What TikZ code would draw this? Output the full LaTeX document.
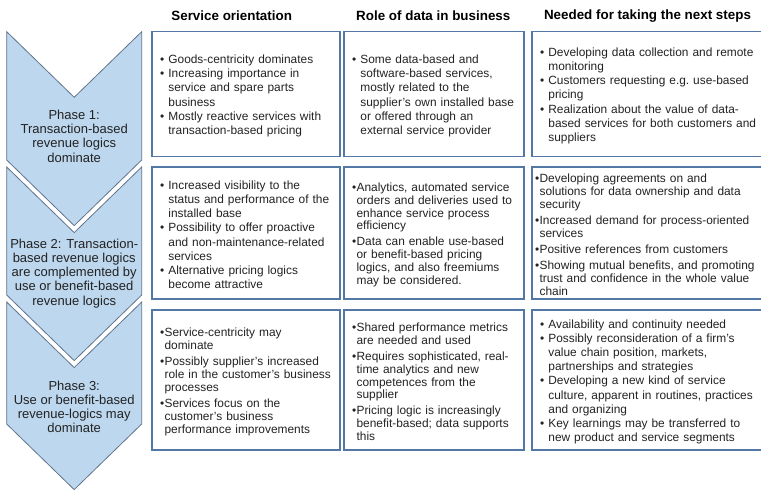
\documentclass[tikz,border=0pt]{standalone}
\usepackage{fontspec}
\setmainfont{Liberation Sans}
\usepackage{xcolor}
\definecolor{chevfill}{RGB}{189,215,238}
\definecolor{chevline}{RGB}{96,116,140}
\definecolor{boxline}{RGB}{84,120,166}
\definecolor{txtgray}{RGB}{34,34,34}
\newcommand{\itm}{\makebox[8.4bp][l]{\textbullet}}
\newcommand{\ind}{\hspace*{8.4bp}}
\newcommand{\itmt}{\makebox[4.6bp][l]{\textbullet}}
\newcommand{\indt}{\hspace*{4.6bp}}
\tikzset{%
  chev/.style={draw=chevline, fill=chevfill, line width=0.8bp, line join=miter},
  phase/.style={align=center, text=txtgray, font=\fontsize{13bp}{14.2bp}\selectfont},
  head/.style={text=black, font=\fontsize{13.4bp}{16bp}\selectfont\bfseries},
  cell/.style={draw=boxline, line width=1.3bp, align=left, text=txtgray,
    inner ysep=0pt, font=\fontsize{11.9bp}{14.2bp}\selectfont,
    execute at begin node={\rule{0pt}{12.2bp}}},
  tight/.style={cell, font=\fontsize{11.9bp}{12.9bp}\selectfont}
}
\begin{document}
\begin{tikzpicture}[x=1bp,y=-1bp]
\clip (0,0) rectangle (761,491);
% phases
\foreach \t/\b in {31.7/160, 167/295, 302/424}
  \draw[chev] (6.7,\t) -- (74.2,\t+65.6) -- (141.7,\t) -- (141.7,\b) -- (74.2,\b+65.6) -- (6.7,\b) -- cycle;
\node[phase] (p1) at (74.2,136.2) {Phase 1:\\Transaction-based\\revenue logics\\dominate};
\node[phase] (p2) at (74.2,273.3) {Phase 2: Transaction-\\based revenue logics\\are complemented by\\use or benefit-based\\revenue logics};
\node[phase] (p3) at (74.2,406.7) {Phase 3:\\Use or benefit-based\\revenue-logics may\\dominate};
% headers
\node[head] (h1) at (231.7,16) {Service orientation};
\node[head] (h2) at (433.3,16) {Role of data in business};
\node[head] (h3) at (647.5,16) {Needed for taking the next steps};
% row 1
\node[cell, inner xsep=8bp, text width=172bp, minimum height=124.8bp] (c11) at (246,94.1)
  {\itm Goods-centricity dominates\\
   \itm Increasing importance in\\
   \ind service and spare parts\\
   \ind business\\
   \itm Mostly reactive services with\\
   \ind transaction-based pricing};
\node[cell, inner xsep=8bp, text width=164bp, minimum height=124.8bp] (c12) at (434,94.1)
  {\itm Some data-based and\\
   \ind software-based services,\\
   \ind mostly related to the\\
   \ind supplier’s own installed base\\
   \ind or offered through an\\
   \ind external service provider};
\node[cell, inner xsep=8bp, text width=242bp, minimum height=124.8bp] (c13) at (661,94.1)
  {\itm Developing data collection and remote\\
   \ind monitoring\\
   \itm Customers requesting e.g.\ use-based\\
   \ind pricing\\
   \itm Realization about the value of data-\\
   \ind based services for both customers and\\
   \ind suppliers};
% row 2
\node[cell, inner xsep=8bp, text width=172bp, minimum height=132bp] (c21) at (246,233)
  {\itm Increased visibility to the\\
   \ind status and performance of the\\
   \ind installed base\\
   \itm Possibility to offer proactive\\
   \ind and non-maintenance-related\\
   \ind services\\
   \itm Alternative pricing logics\\
   \ind become attractive};
\node[tight, inner xsep=8bp, text width=164bp, minimum height=132bp] (c22) at (434,233)
  {\itmt Analytics, automated service\\
   \indt orders and deliveries used to\\
   \indt enhance service process\\
   \indt efficiency\\[3bp]
   \itmt Data can enable use-based\\
   \indt or benefit-based pricing\\
   \indt logics, and also freemiums\\
   \indt may be considered.};
\node[tight, inner xsep=3bp, text width=252bp, minimum height=132bp] (c23) at (661,233)
  {\itmt Developing agreements on and\\
   \indt solutions for data ownership and data\\
   \indt security\\[3bp]
   \itmt Increased demand for process-oriented\\
   \indt services\\[3bp]
   \itmt Positive references from customers\\[3bp]
   \itmt Showing mutual benefits, and promoting\\
   \indt trust and confidence in the whole value\\
   \indt chain};
% row 3
\node[tight, inner xsep=8bp, text width=172bp, minimum height=140bp] (c31) at (246,380)
  {\itmt Service-centricity may\\
   \indt dominate\\[3bp]
   \itmt Possibly supplier’s increased\\
   \indt role in the customer’s business\\
   \indt processes\\[3bp]
   \itmt Services focus on the\\
   \indt customer’s business\\
   \indt performance improvements};
\node[tight, inner xsep=8bp, text width=164bp, minimum height=140bp] (c32) at (434,380)
  {\itmt Shared performance metrics\\
   \indt are needed and used\\[3bp]
   \itmt Requires sophisticated, real-\\
   \indt time analytics and new\\
   \indt competences from the\\
   \indt supplier\\[3bp]
   \itmt Pricing logic is increasingly\\
   \indt benefit-based; data supports\\
   \indt this};
\node[cell, inner xsep=8bp, text width=242bp, minimum height=140bp] (c33) at (661,380)
  {\itm Availability and continuity needed\\
   \itm Possibly reconsideration of a firm’s\\
   \ind value chain position, markets,\\
   \ind partnerships and strategies\\
   \itm Developing a new kind of service\\
   \ind culture, apparent in routines, practices\\
   \ind and organizing\\
   \itm Key learnings may be transferred to\\
   \ind new product and service segments};
\end{tikzpicture}
\end{document}
